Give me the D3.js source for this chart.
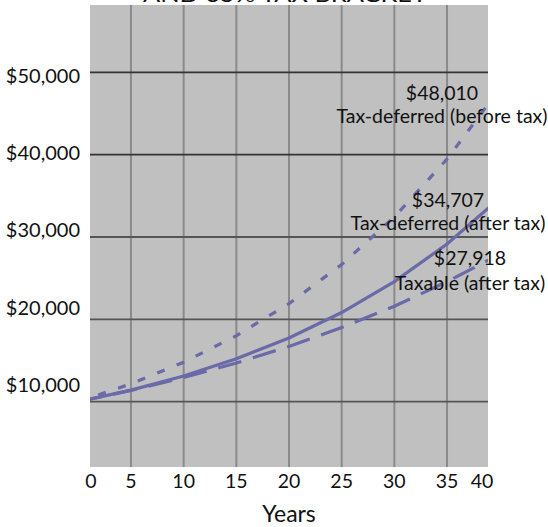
<!DOCTYPE html>
<html>
<head>
<meta charset="UTF-8">
<title>Tax-deferred vs taxable</title>
<script src="https://cdn.jsdelivr.net/npm/d3@7"></script>
<style>
body{margin:0;background:#fff;}
text{font-family:Lato,"Open Sans",sans-serif;fill:#111;}
</style>
</head>
<body>
<script>
// data (every 5 years)
var years=[0,5,10,15,20,25,30,35,40];
var beforeTax=[10000,12170,14800,18010,21910,26660,32430,39460,48010];
var deferredAfter=[10000,11410,13120,15210,17740,20830,24580,29150,34707];
var taxableAfter=[10000,11370,12930,14700,16710,19000,21600,24560,27918];
var yTicks=[10000,20000,30000,40000,50000];
var xTicks=[0,5,10,15,20,25,30,35,40];
var seriesNames=["Tax-deferred (before tax)","Tax-deferred (after tax)","Taxable (after tax)"];
var titleText="AND 35% TAX BRACKET";

var width=548,height=527;
var plotL=90,plotR=488,plotT=5,plotB=467;

var svg=d3.select("body").append("svg")
	.attr("width",width)
	.attr("height",height);

// the plot is a cropped window: year 5 at 131, year 35 at 447
var xScale=d3.scaleLinear().domain([0,40]).range([78.3,499.7]);
var yScale=d3.scaleLinear().domain([10000,50000]).range([401.7,72.3]);
// y labels sit a bit off the grid in the original
var yLabel=d3.scaleLinear().domain([10000,50000]).range([392,82.5]);

svg.append("defs").append("clipPath").attr("id","plot")
	.append("rect").attr("x",plotL).attr("y",plotT).attr("width",plotR-plotL).attr("height",plotB-plotT);

// title, mostly cut off at the top
svg.append("text")
	.attr("x",285).attr("y",2)
	.attr("text-anchor","middle")
	.attr("font-size","22px")
	.attr("textLength",284)
	.attr("lengthAdjust","spacingAndGlyphs")
	.text(titleText);

svg.append("rect")
	.attr("x",plotL).attr("y",plotT)
	.attr("width",plotR-plotL).attr("height",plotB-plotT)
	.attr("fill","#c0c0c0");

var grid=svg.append("g").attr("clip-path","url(#plot)");
grid.selectAll("line.v")
	.data(xTicks.filter(function(d){return d>0&&d<40;}))
	.enter().append("line")
	.attr("class","v")
	.attr("x1",function(d){return xScale(d);})
	.attr("x2",function(d){return xScale(d);})
	.attr("y1",plotT).attr("y2",plotB)
	.attr("stroke","#8a8a8a")
	.attr("stroke-width",2);
grid.selectAll("line.h")
	.data(yTicks)
	.enter().append("line")
	.attr("class","h")
	.attr("x1",plotL).attr("x2",plotR)
	.attr("y1",function(d){return yScale(d);})
	.attr("y2",function(d){return yScale(d);})
	.attr("stroke",function(d){return d>=40000?"#333":"#555";})
	.attr("stroke-width",1.8);

// y labels
var fmt=d3.format("$,.0f");
svg.append("g").selectAll("text")
	.data(yTicks)
	.enter().append("text")
	.attr("x",80)
	.attr("y",function(d){return yLabel(d);})
	.attr("text-anchor","end")
	.attr("font-size","20px")
	.text(function(d){return fmt(d);});

// x labels, the end ones pulled inside the window
svg.append("g").selectAll("text")
	.data(xTicks)
	.enter().append("text")
	.attr("x",function(d){return Math.max(91,Math.min(482,xScale(d)));})
	.attr("y",488)
	.attr("text-anchor","middle")
	.attr("font-size","19.5px")
	.text(function(d){return d;});

svg.append("text")
	.attr("x",(plotL+plotR)/2).attr("y",522)
	.attr("text-anchor","middle")
	.attr("font-size","23px")
	.text("Years");

// lines
var series=[
	{name:seriesNames[0],values:beforeTax,dash:"8,13"},
	{name:seriesNames[1],values:deferredAfter,dash:null},
	{name:seriesNames[2],values:taxableAfter,dash:"24,12"}
];
var line=d3.line()
	.x(function(d,i){return xScale(years[i]);})
	.y(function(d){return yScale(d);});
svg.append("g").attr("clip-path","url(#plot)")
	.selectAll("path")
	.data(series)
	.enter().append("path")
	.attr("d",function(s){return line(s.values);})
	.attr("fill","none")
	.attr("stroke","#6b6aa8")
	.attr("stroke-width",3.2)
	.attr("stroke-dasharray",function(s){return s.dash;});

// end labels
var labelPos=[[442,100,123],[448,207,230],[470,265,290]];
var notes=svg.append("g").selectAll("g")
	.data(series)
	.enter().append("g");
notes.append("text")
	.attr("x",function(s,i){return labelPos[i][0];})
	.attr("y",function(s,i){return labelPos[i][1];})
	.attr("text-anchor","middle")
	.attr("font-size","19.5px")
	.text(function(s){return fmt(s.values[s.values.length-1]);});
notes.append("text")
	.attr("x",function(s,i){return labelPos[i][0];})
	.attr("y",function(s,i){return labelPos[i][2];})
	.attr("text-anchor","middle")
	.attr("font-size","19.5px")
	.text(function(s){return s.name;});
</script>
</body>
</html>
